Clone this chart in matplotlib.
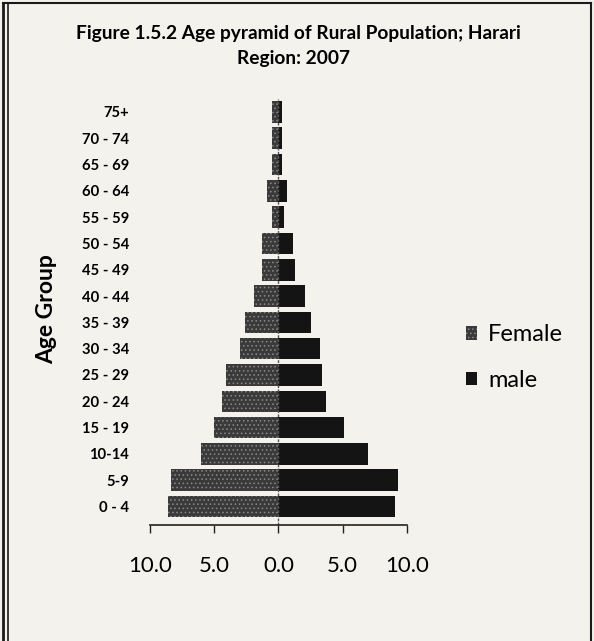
import numpy as np
import matplotlib
matplotlib.use("Agg")
from matplotlib import pyplot as plt
from matplotlib.lines import Line2D

plt.rcParams['font.family'] = ['Lato', 'DejaVu Sans']
plt.rcParams['hatch.linewidth'] = 0.6

age_groups = ["0 - 4", "5-9", "10-14", "15 - 19", "20 - 24", "25 - 29", "30 - 34",
              "35 - 39", "40 - 44", "45 - 49", "50 - 54", "55 - 59", "60 - 64",
              "65 - 69", "70 - 74", "75+"]
female = [8.6, 8.4, 6.0, 5.0, 4.4, 4.1, 3.0, 2.6, 1.9, 1.3, 1.3, 0.5, 0.9, 0.5, 0.5, 0.5]
male = [9.1, 9.3, 7.0, 5.1, 3.7, 3.4, 3.2, 2.5, 2.1, 1.3, 1.1, 0.4, 0.7, 0.3, 0.3, 0.25]
xticks = [-10, -5, 0, 5, 10]
xticklabels = ["10.0", "5.0", "0.0", "5.0", "10.0"]

paper = "#f4f2ed"
fig = plt.figure(figsize=(5.94, 6.41), dpi=100, facecolor=paper)
ax = fig.add_axes([0.2525, 0.181, 0.4327, 0.665])
ax.set_facecolor(paper)

y = np.arange(len(age_groups))
ax.barh(y, -np.array(female), height=0.82, color="#3a3a3a", edgecolor="#8a8a8a",
        hatch="....", linewidth=0, label="Female")
ax.barh(y, male, height=0.82, color="#141414", linewidth=0, label="male")
ax.axvline(0, color="#555555", linewidth=1.0, linestyle=(0, (2, 1)))

ax.set_xlim(-10, 10)
ax.set_ylim(-0.7, 15.5)
ax.set_xticks(xticks)
ax.set_xticklabels(xticklabels, fontsize=16)
ax.set_yticks(y)
ax.set_yticklabels(age_groups, fontsize=10.6, fontweight="bold")
ax.tick_params(axis="y", length=0, pad=15)
ax.tick_params(axis="x", direction="out", length=6, width=1, pad=16, color="#222222")
for s in ["top", "right", "left"]:
    ax.spines[s].set_visible(False)
ax.spines["bottom"].set_linewidth(1.2)
ax.spines["bottom"].set_color("#222222")

fig.text(0.079, 0.518, "Age Group", rotation=90, fontsize=16.5, fontweight="bold",
         ha="center", va="center")
fig.text(0.502, 0.948, "Figure 1.5.2 Age pyramid of Rural Population; Harari",
         fontsize=13.8, fontweight="bold", ha="center", va="center")
fig.text(0.494, 0.909, "Region: 2007", fontsize=13.8, fontweight="bold",
         ha="center", va="center")

fig.legend(loc="center left", bbox_to_anchor=(0.748, 0.442), frameon=False,
           fontsize=17, handlelength=0.5, handleheight=0.5, handletextpad=0.45,
           labelspacing=1.05)

# page frame
for xx, lw in [(0.005, 2.0), (0.014, 1.2), (0.995, 1.5)]:
    fig.add_artist(Line2D([xx, xx], [0, 0.995], transform=fig.transFigure,
                          color="#1a1a1a", linewidth=lw))
fig.add_artist(Line2D([0.005, 0.995], [0.995, 0.995], transform=fig.transFigure,
                      color="#1a1a1a", linewidth=1.5))

plt.savefig("out.png", dpi=100, facecolor=paper)
